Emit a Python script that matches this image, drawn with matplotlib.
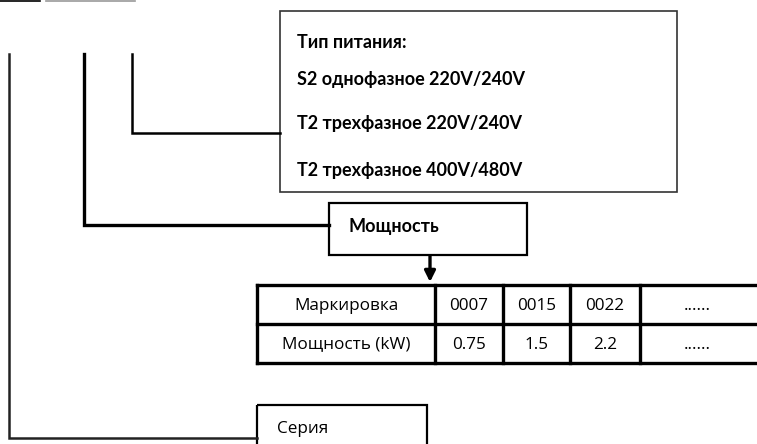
import matplotlib.pyplot as plt
from matplotlib.patches import Rectangle

# texts of the diagram
supply_title = "Тип питания:"
supply_types = ["S2 однофазное 220V/240V",
                "T2 трехфазное 220V/240V",
                "T2 трехфазное 400V/480V"]
power_title = "Мощность"
row_labels = ["Маркировка", "Мощность (kW)"]
codes = ["0007", "0015", "0022", "......"]
powers = ["0.75", "1.5", "2.2", "......"]
series_title = "Серия"

FONT = ["Open Sans", "DejaVu Sans"]
BFONT = ["Lato", "DejaVu Sans"]
FS = 12.3
BFS = 13

fig = plt.figure(figsize=(7.57, 4.44), dpi=100)
ax = fig.add_axes([0, 0, 1, 1])
ax.set_xlim(0, 757)
ax.set_ylim(444, 0)
ax.axis('off')


def box(x0, y0, x1, y1, lw, color='black'):
    ax.add_patch(Rectangle((x0, y0), x1 - x0, y1 - y0, fill=False,
                           lw=lw, edgecolor=color, joinstyle='miter'))


# little cut-off strips at the top left
ax.plot([0, 40], [0.8, 0.8], color='black', lw=1.2)
ax.plot([46, 135], [0.8, 0.8], color='#999999', lw=1.2)

# leader lines
ax.plot([9, 9, 257], [54, 438, 438], color='#222222', lw=1.8, solid_joinstyle='miter')
ax.plot([84, 84, 329], [54, 225, 225], color='black', lw=2.4, solid_joinstyle='miter')
ax.plot([132, 132, 280], [54, 133, 133], color='black', lw=1.8, solid_joinstyle='miter')

# supply type box
box(280, 11, 677, 192, 1.2, '#333333')
ax.text(297, 43, supply_title, fontsize=BFS, fontweight='bold', family=BFONT,
        va='center', ha='left')
for i, s in enumerate(supply_types):
    ax.text(297, [80, 123, 170][i], s, fontsize=BFS, fontweight='bold',
            family=BFONT, va='center', ha='left')

# power box + arrow
box(329, 203, 527, 255, 1.6)
ax.text(348, 226, power_title, fontsize=BFS, fontweight='bold', family=BFONT,
        va='center', ha='left')
ax.annotate('', xy=(430, 282), xytext=(430, 256),
            arrowprops=dict(arrowstyle='-|>', color='black', lw=2.4,
                            mutation_scale=16, shrinkA=0, shrinkB=0))

# power table
col_x = [257, 435, 503, 570, 640, 760]
row_y = [285, 324, 363]
for x in col_x:
    ax.plot([x, x], [row_y[0], row_y[-1]], color='black', lw=2.4)
for y in row_y:
    ax.plot([col_x[0], col_x[-1]], [y, y], color='black', lw=2.4)
rows = [codes, powers]
for r in range(2):
    yc = (row_y[r] + row_y[r + 1]) / 2 + 1
    ax.text((col_x[0] + col_x[1]) / 2, yc, row_labels[r], fontsize=FS,
            family=FONT, ha='center', va='center')
    for c, val in enumerate(rows[r]):
        xc = (col_x[c + 1] + min(col_x[c + 2], 754)) / 2
        ax.text(xc, yc, val, fontsize=FS, family=FONT, ha='center', va='center')

# series box
box(257, 405, 427, 460, 1.6)
ax.text(277, 429, series_title, fontsize=FS, family=FONT, va='center', ha='left')

plt.savefig('out.png', dpi=100)
